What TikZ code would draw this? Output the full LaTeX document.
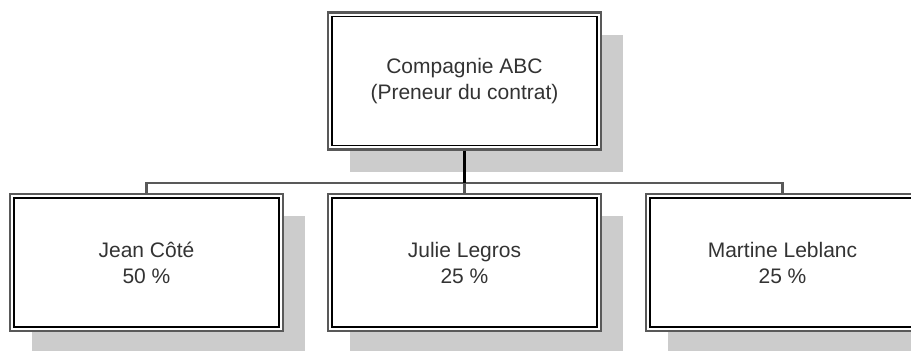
\documentclass[tikz,border=0pt]{standalone}
\usepackage{fontspec}
\setmainfont{Liberation Sans}
\usetikzlibrary{shadows,positioning}

\begin{document}
\begin{tikzpicture}[x=1pt,y=-1pt,
  party/.style={rectangle, draw=black!65, line width=2.2pt, fill=white,
    minimum width=273pt, minimum height=137pt, inner sep=0pt,
    align=center, text=black!80,
    font=\fontsize{21}{26}\selectfont,
    drop shadow={shadow xshift=22pt, shadow yshift=-22pt, fill=black!20, opacity=1},
    path picture={\draw[black, line width=1.6pt]
      ([shift={(4pt,4pt)}]path picture bounding box.south west) rectangle
      ([shift={(-4pt,-4pt)}]path picture bounding box.north east);}},
  trunk/.style={black, line width=2.2pt},
  branch/.style={black!65, line width=2.2pt}]
\useasboundingbox (0,0) rectangle (911,351);
\clip (0,0) rectangle (911,351);
\node [party] (abc) at (464.5,81) {Compagnie ABC\\(Preneur du contrat)};
\node [party] (jean) at (146.5,262.5) {Jean Côté\\50 \%};
\node [party] (julie) at (464.5,262.5) {Julie Legros\\25 \%};
\node [party] (martine) at (782.5,262.5) {Martine Leblanc\\25 \%};
\coordinate (bus) at (464.5,183);
\draw [branch] (jean) |- (bus) -| (martine);
\draw [branch] (bus) -- (julie);
\draw [trunk] (abc) -- (bus);
\end{tikzpicture}
\end{document}
